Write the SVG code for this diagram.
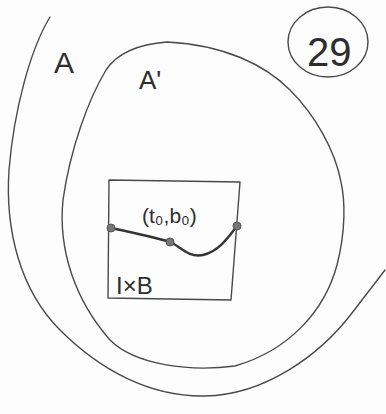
<svg xmlns="http://www.w3.org/2000/svg" width="386" height="414" viewBox="0 0 386 414">
<style>
.ln{fill:none;stroke:#4a4a4a;stroke-width:1.4;stroke-linecap:round;stroke-linejoin:round}
.th{fill:none;stroke:#333;stroke-width:2.4;stroke-linecap:round}
.pt{fill:#777;stroke:#555;stroke-width:1}
.t{font-family:"Liberation Sans",Arial,sans-serif;fill:#2e2e2e}
</style>
<rect width="386" height="414" fill="#fdfdfd"/>
<g id="regionA">
<path class="ln" d="M50,17 C30,50 14,110 9,170 C5,230 20,290 60,330 C100,370 150,397 205,396 C265,395 320,355 352,313 C365,296 375,283 385,270"/>
<text class="t" x="54" y="73" font-size="30">A</text>
</g>
<g id="regionA2">
<path class="ln" d="M167,42 C140,44 118,52 106,70 C88,100 70,150 63,200 C58,250 75,300 110,340 C135,365 190,372 235,366 C290,350 325,310 337,265 C346,230 345,200 341,182 C335,150 315,115 290,90 C265,65 225,45 167,42 Z"/>
<text class="t" x="139" y="89" font-size="26">A'</text>
</g>
<g id="box">
<path class="ln" d="M109,180 L240,182 L231,300 L108,298 Z"/>
<text class="t" x="116" y="294" font-size="24">I×B</text>
</g>
<g id="path">
<path class="th" d="M111,228 C135,233 158,238 170,242 C180,246 188,258 203,255 C218,252 228,238 237,226"/>
<circle class="pt" cx="111" cy="228" r="4"/>
<circle class="pt" cx="170" cy="242" r="4"/>
<circle class="pt" cx="237" cy="226" r="4"/>
<text class="t" x="142" y="223" font-size="21">(t₀,b₀)</text>
</g>
<g id="page">
<ellipse class="ln" cx="328" cy="42" rx="40" ry="35" stroke-width="2.2"/>
<text class="t" x="307" y="66" font-size="40">29</text>
</g>
</svg>
